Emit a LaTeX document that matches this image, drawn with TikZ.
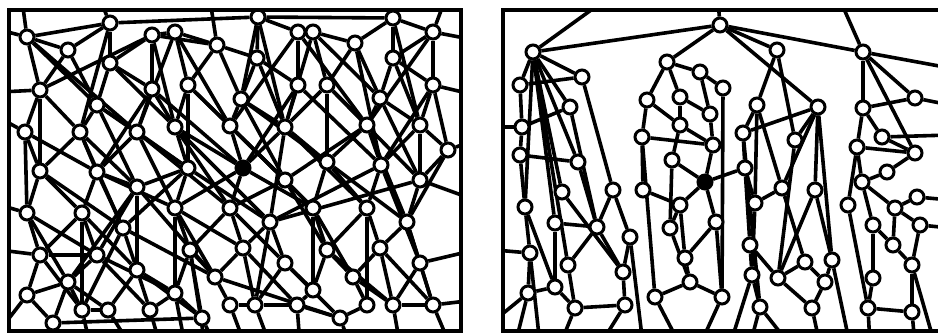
\documentclass[tikz,border=0pt]{standalone}
\usetikzlibrary{backgrounds}
\tikzset{
  v/.style={circle, draw, fill=white, line width=3pt, minimum size=14pt, inner sep=0pt},
  vf/.style={v, fill=black},
  e/.style={line width=3.6pt},
  frame/.style={line width=3.6pt}
}
\begin{document}
\begin{tikzpicture}[x=1pt,y=-1pt]
\useasboundingbox (0,0) rectangle (938,333);
% ---------------- left panel nodes ----------------
\foreach \n/\x/\y in {L1/27/37,L2/110/23,L3/152/35,L4/175/32,L5/258/17,L6/298/32,L7/313/32,L8/393/18,L9/433/32,
 L10/68/50,L11/110/63,L12/217/45,L13/257/58,L14/355/43,L15/393/58,
 L16/40/90,L17/97/105,L18/152/89,L19/188/85,L20/241/99,L21/298/85,L22/327/85,L23/433/85,L25/380/98,
 L26/25/132,L27/80/132,L28/137/132,L29/175/127,L30/230/126,L31/285/127,L32/367/125,L33/420/125,
 L34/40/171,L36/97/172,L37/188/168,L39/327/162,L40/381/165,L41/448/150,L42/285/180,L43/420/180,
 L44/137/187,L45/27/213,L46/82/213,L47/175/208,L48/230/208,L49/123/228,L50/313/208,L51/367/208,L52/270/222,L53/407/222,
 L54/40/255,L55/97/255,L56/190/250,L57/243/248,L58/327/250,L59/380/248,L60/285/263,L61/420/263,L62/137/270,
 L63/68/282,L64/215/277,L65/27/295,L66/175/293,L67/353/277,L68/313/290,
 L69/82/310,L70/108/310,L71/150/310,L72/230/305,L73/255/305,L74/297/305,L75/367/305,L76/393/305,L77/433/305,L78/53/323,L79/202/318,L80/340/318}
  \node[v] (\n) at (\x,\y) {};
\node[vf] (L38) at (243,168) {};
% ---------------- right panel nodes ----------------
\foreach \n/\x/\y in {R0/720/25,
 R1/533/52,R2/582/77,R3/520/85,R4/570/107,R5/522/127,R6/520/155,R7/578/162,R8/562/192,R9/525/207,R10/555/223,R11/597/227,R12/613/190,R13/630/237,R14/530/253,R15/568/265,R16/623/272,R17/528/293,R18/555/287,R19/575/308,R20/625/305,
 R22/667/62,R23/700/72,R24/647/100,R25/680/97,R26/710/114,R27/680/125,R28/642/137,R29/713/145,R30/672/160,R32/643/190,R33/680/205,R34/670/228,R35/716/222,R36/685/258,R37/690/282,R38/655/297,R40/723/88,R59/722/297,
 R41/777/50,R42/757/105,R43/818/107,R44/743/133,R45/795/140,R46/745/168,R47/782/188,R48/815/190,R49/755/203,R50/750/245,R51/805/262,R52/832/260,R53/752/275,R54/778/278,R55/825/282,R56/760/307,R57/812/308,
 R60/863/52,R61/915/98,R62/863/108,R63/882/137,R64/857/147,R65/915/153,R66/862/182,R67/887/172,R68/848/205,R69/917/197,R70/895/208,R71/873/225,R72/920/225,R73/893/245,R74/912/265,R75/873/278,R76/868/308,R77/912/312}
  \node[v] (\n) at (\x,\y) {};
\node[vf] (R31) at (705,182) {};
% free ends
\foreach \n/\x/\y in {lb1/0/30,tb1/22/0,tb2/100/0,tb3/210/0,tb4/445/0,rb1/475/40,rb2/475/95,rb3/475/140,rb4/475/200,rb5/475/250,rb6/475/300,
 lb2/0/92,lb3/0/118,lb4/0/205,lb5/0/330,lb6/0/250,
 bb1/40/345,bb2/90/345,bb3/160/345,bb4/215/345,bb5/245/345,bb6/300/345,bb7/350/345,bb8/400/345,bb9/450/345,bb10/130/345,bb11/270/345,bb12/185/345,bb13/205/345,
 rt0/718/0,rt1/605/0,rt2/840/0,rr1/950/68,rr2/950/105,rr3/950/135,rr4/950/200,rr5/950/228,
 rl1/495/127,rl2/495/250,rl3/495/320,
 q1/643/345,q2/560/345,q3/600/345,q4/515/345,q5/680/345,q6/700/345,q7/850/345,q8/750/345,q9/790/345,q10/820/345,q11/730/345,q12/870/345,q13/915/345,q14/935/345,q15/540/345}
  \coordinate (\n) at (\x,\y);
\begin{pgfonlayer}{background}
\begin{scope}
\clip (9,10) rectangle (461,331);
\foreach \a/\b in {L1/L2,L2/L5,L5/L8,L8/L9,L3/L4,L6/L7,L1/L10,L2/L10,L2/L11,L3/L11,L3/L18,L4/L12,L4/L19,L5/L13,L5/L6,L7/L14,L7/L22,L8/L15,L9/L15,L9/L23,L6/L21,L12/L13,L3/L12,L8/L14,
 L10/L16,L10/L17,L11/L17,L11/L18,L12/L19,L12/L20,L13/L20,L13/L21,L14/L22,L14/L25,L15/L25,L15/L23,L1/L17,L3/L16,L2/L27,L4/L28,L7/L31,L9/L32,L6/L30,L8/L33,L3/L29,L13/L31,L1/L16,
 L16/L26,L16/L27,L17/L27,L17/L28,L18/L28,L18/L29,L19/L29,L19/L30,L20/L30,L20/L31,L21/L31,L22/L31,L22/L32,L25/L32,L25/L33,L23/L33,L23/L41,L16/L34,L18/L36,L19/L37,L21/L38,L22/L39,L23/L40,L17/L44,L20/L42,L25/L43,
 L26/L34,L27/L34,L27/L36,L28/L36,L28/L37,L29/L37,L29/L38,L30/L38,L31/L38,L31/L39,L32/L39,L32/L40,L33/L40,L33/L41,L30/L42,L33/L43,L32/L42,L41/L43,
 L34/L45,L34/L46,L36/L46,L36/L44,L37/L44,L37/L47,L38/L47,L38/L48,L42/L48,L42/L50,L39/L50,L39/L51,L40/L51,L40/L52,L43/L53,L41/L53,L43/L52,L37/L49,L36/L49,L26/L45,L27/L49,L29/L48,L31/L52,L32/L53,L28/L47,L30/L50,
 L45/L54,L46/L55,L46/L54,L44/L55,L44/L62,L47/L56,L49/L62,L47/L57,L48/L57,L50/L58,L52/L57,L52/L60,L51/L59,L53/L61,L51/L58,L53/L59,L48/L56,L45/L63,L49/L64,L50/L67,L53/L77,
 L54/L55,L54/L65,L55/L63,L62/L66,L56/L64,L56/L66,L57/L64,L60/L68,L58/L67,L59/L67,L61/L77,L58/L68,L65/L63,L63/L69,L63/L70,L62/L71,L69/L70,L66/L79,L64/L72,L60/L73,L68/L74,L67/L75,L67/L76,L59/L76,L76/L77,L73/L74,L78/L79,L74/L80,L75/L80,L65/L78,L62/L70,L57/L73,L61/L76,L66/L71,L72/L73,L55/L66,L64/L80,
 L44/L64,L46/L62,L47/L66,L56/L79,L49/L69,
 L1/L28,L11/L29,L4/L30,L5/L20,L5/L31,L6/L32,L7/L25,L14/L40,L15/L33,L17/L37,L18/L38,L19/L42,L20/L39,L21/L40,L22/L43,L26/L36,L27/L44,L28/L48,L29/L52,L31/L51,L34/L49,L36/L47,L37/L52,L38/L50,L39/L53,L40/L61,L42/L58,L44/L63,L45/L55,L46/L69,L47/L64,L48/L60,L50/L68,L51/L75,L52/L73,L57/L74,L58/L76,L59/L77,L60/L80,L62/L79,L63/L78,L55/L71,L54/L69,
 L1/lb1,L1/tb1,L2/tb2,L12/tb3,L9/tb4,L9/rb1,L23/rb2,L41/rb3,L43/rb4,L61/rb5,L77/rb6,L16/lb2,L26/lb3,L45/lb4,L65/lb5,L54/lb6,
 L78/bb1,L69/bb2,L71/bb3,L79/bb4,L72/bb5,L74/bb6,L80/bb7,L76/bb8,L77/bb9,L70/bb10,L73/bb11,L66/bb12,L56/bb13}
  \draw[e] (\a) -- (\b);
\end{scope}
\begin{scope}
\clip (503,10) rectangle (940,331);
\foreach \a/\b in {R0/rt0,R0/R1,R0/R22,R0/R60,R0/R43,R0/R41,R1/rt1,
 R1/R2,R1/R3,R1/R4,R1/R7,R1/R8,R1/R9,R1/R10,R1/R15,R2/R12,R3/R2,R3/R5,R4/R5,R4/R11,R5/R6,R5/rl1,R6/R9,R6/R7,R7/R11,R12/R11,R12/R13,R9/R14,R10/R11,R10/R18,R11/R15,R11/R16,R13/R16,R13/q1,R14/rl2,R14/R17,R15/R19,R16/R20,R17/rl3,R17/R18,R18/R19,R19/R20,R19/q2,R20/q3,R17/q4,R8/R16,R9/R18,R14/q15,
 R22/R23,R22/R24,R22/R25,R23/R26,R23/R40,R24/R28,R24/R27,R25/R27,R25/R26,R27/R29,R27/R30,R28/R29,R28/R32,R28/R38,R30/R31,R30/R34,R31/R33,R31/R35,R32/R33,R33/R34,R33/R36,R34/R37,R35/R36,R36/R37,R37/R38,R37/R59,R38/q5,R40/R59,R59/q6,R35/R59,R26/R29,R29/R31,
 R41/R42,R41/R45,R42/R44,R42/R49,R42/R47,R43/R44,R43/R45,R43/R48,R43/R47,R43/R52,R44/R46,R44/R56,R45/R54,R46/R49,R46/R50,R46/R31,R47/R49,R47/R51,R48/R52,R48/R54,R49/R53,R50/R53,R50/R54,R51/R54,R51/R55,R52/R55,R52/q7,R53/R56,R54/R57,R55/R57,R56/q8,R56/q9,R57/q10,R53/q11,
 R60/rt2,R60/rr1,R60/R61,R60/R62,R60/R65,R61/R62,R61/rr2,R62/R64,R62/R63,R63/rr3,R63/R65,R64/R65,R64/R66,R64/R68,R65/R67,R66/R67,R66/R70,R66/R71,R68/R76,R69/R70,R69/rr4,R70/R73,R71/R73,R71/R75,R72/R74,R72/rr5,R73/R74,R74/R77,R75/R76,R76/R77,R76/q12,R77/q13,R74/q14,R70/R72}
  \draw[e] (\a) -- (\b);
\end{scope}
\end{pgfonlayer}
\draw[frame] (9,10) rectangle (461,331);
\draw[frame] (503,10) rectangle (940,331);
\end{tikzpicture}
\end{document}
